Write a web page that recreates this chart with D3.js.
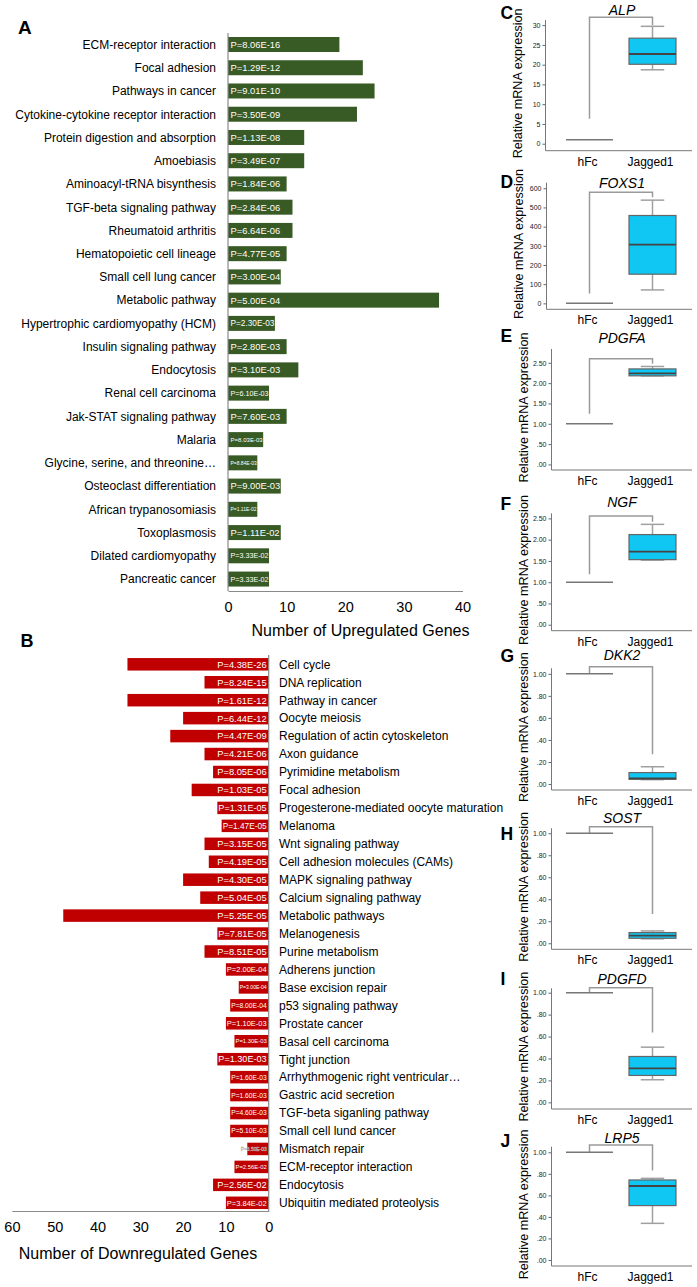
<!DOCTYPE html>
<html>
<head>
<meta charset="utf-8">
<script src="https://cdn.jsdelivr.net/npm/d3@7"></script>
<style>
  html, body { margin: 0; padding: 0; background: #fff; }
  svg { display: block; font-family: "Liberation Sans", Arial, sans-serif; }
</style>
</head>
<body>
<svg id="chart" width="697" height="1287"></svg>
<script>
// ---------------- DATA ----------------
const upCategories = [
  "ECM-receptor interaction","Focal adhesion","Pathways in cancer","Cytokine-cytokine receptor interaction",
  "Protein digestion and absorption","Amoebiasis","Aminoacyl-tRNA bisynthesis","TGF-beta signaling pathway",
  "Rheumatoid arthritis","Hematopoietic cell lineage","Small cell lung cancer","Metabolic pathway",
  "Hypertrophic cardiomyopathy (HCM)","Insulin signaling pathway","Endocytosis","Renal cell carcinoma",
  "Jak-STAT signaling pathway","Malaria","Glycine, serine, and threonine\u2026","Osteoclast differentiation",
  "African trypanosomiasis","Toxoplasmosis","Dilated cardiomyopathy","Pancreatic cancer"
];
const upCounts = [19,23,25,22,13,13,10,11,11,10,9,36,8,10,12,7,10,6,5,9,5,9,7,7];
const upPValues = [
  "P=8.06E-16","P=1.29E-12","P=9.01E-10","P=3.50E-09","P=1.13E-08","P=3.49E-07","P=1.84E-06","P=2.84E-06",
  "P=6.64E-06","P=4.77E-05","P=3.00E-04","P=5.00E-04","P=2.30E-03","P=2.80E-03","P=3.10E-03","P=6.10E-03",
  "P=7.60E-03","P=8.03E-03","P=8.84E-03","P=9.00E-03","P=1.11E-02","P=1.11E-02","P=3.33E-02","P=3.33E-02"
];
const upTicks = [0,10,20,30,40];

const downCategories = [
  "Cell cycle","DNA replication","Pathway in cancer","Oocyte meiosis","Regulation of actin cytoskeleton",
  "Axon guidance","Pyrimidine metabolism","Focal adhesion","Progesterone-mediated oocyte maturation","Melanoma",
  "Wnt signaling pathway","Cell adhesion molecules (CAMs)","MAPK signaling pathway","Calcium signaling pathway",
  "Metabolic pathways","Melanogenesis","Purine metabolism","Adherens junction","Base excision repair",
  "p53 signaling pathway","Prostate cancer","Basal cell carcinoma","Tight junction",
  "Arrhythmogenic right ventricular\u2026","Gastric acid secretion","TGF-beta siganling pathway",
  "Small cell lund cancer","Mismatch repair","ECM-receptor interaction","Endocytosis","Ubiquitin mediated proteolysis"
];
const downCounts = [33,15,33,20,23,15,13,18,12,11,15,14,20,16,48,12,15,10,7,9,10,8,12,9,9,9,9,5,8,13,10];
const downPValues = [
  "P=4.38E-26","P=8.24E-15","P=1.61E-12","P=6.44E-12","P=4.47E-09","P=4.21E-06","P=8.05E-06","P=1.03E-05",
  "P=1.31E-05","P=1.47E-05","P=3.15E-05","P=4.19E-05","P=4.30E-05","P=5.04E-05","P=5.25E-05","P=7.81E-05",
  "P=8.51E-05","P=2.00E-04","P=3.00E-04","P=8.00E-04","P=1.10E-03","P=1.30E-03","P=1.30E-03","P=1.60E-03",
  "P=1.60E-03","P=4.60E-03","P=5.10E-03","P=3.50E-03","P=2.56E-02","P=2.56E-02","P=3.84E-02"
];
const downTicks = [60,50,40,30,20,10,0];

// qPCR box plots (Jagged1 vs hFc)
const genes   = ["ALP","FOXS1","PDGFA","NGF","DKK2","SOST","PDGFD","LRP5"];
const letters = ["C","D","E","F","G","H","I","J"];
const groups  = ["hFc","Jagged1"];
const hFcValue       = [1,1,1,1,1,1,1,1];
const jagWhiskerLow  = [18.7, 70, 2.18, 1.52, 0.040, 0.040, 0.206, 0.34];
const jagQ1          = [20.1, 152, 2.18, 1.53, 0.043, 0.045, 0.245, 0.505];
const jagMedian      = [22.7, 306, 2.24, 1.72, 0.052, 0.070, 0.309, 0.687];
const jagQ3          = [26.7, 458, 2.35, 2.12, 0.104, 0.097, 0.418, 0.743];
const jagWhiskerHigh = [29.7, 538, 2.41, 2.36, 0.157, 0.112, 0.503, 0.758];
const bracketStart   = [6.3, 52, 1.25, 1.19, 1.0, 1.0, 1.0, 1.0];
const bracketTop     = [32.0, 579, 2.60, 2.555, 1.063, 1.06, 1.045, 1.068];
const bracketEnd     = [30.0, 553, 2.48, 2.42, 0.27, 0.267, 0.636, 0.83];
const yTicks = [
  [0,5,10,15,20,25,30],
  [0,100,200,300,400,500,600],
  [0,0.5,1,1.5,2,2.5],
  [0,0.5,1,1.5,2,2.5],
  [0,0.2,0.4,0.6,0.8,1],
  [0,0.2,0.4,0.6,0.8,1],
  [0,0.2,0.4,0.6,0.8,1],
  [0,0.2,0.4,0.6,0.8,1]
];
const yDomains = [
  [-1.77, 31.3],[-31, 629],[-0.137, 2.84],[-0.14, 2.62],
  [-0.054, 1.05],[-0.055, 1.045],[-0.061, 1.04],[-0.056, 1.052]
];

// ---------------- LAYOUT ----------------
const FONT = '"Liberation Sans", Arial, sans-serif';
const svg = d3.select("#chart");
const GREEN = "#385a25", RED = "#c00000", AXIS = "#8a8a8a";

function labelSize(w, max) { return Math.max(4.9, Math.min(max, (w - 3) / 5.3)); }

// ---------- Panel A ----------
const gA = svg.append("g");
const xA = d3.scaleLinear().domain([0, 40]).range([228, 462.5]);
const yA = d3.scaleBand().domain(upCategories).range([28.75, 594.8]).paddingInner(0.355).paddingOuter(0.355);

gA.selectAll("rect.bar").data(upCategories).join("rect")
  .attr("x", xA(0)).attr("y", d => yA(d))
  .attr("width", (d, i) => xA(upCounts[i]) - xA(0))
  .attr("height", yA.bandwidth())
  .attr("fill", GREEN);

gA.selectAll("text.pv").data(upCategories).join("text")
  .attr("x", xA(0) + 2.5).attr("y", d => yA(d) + yA.bandwidth() / 2)
  .attr("dy", "0.36em").attr("fill", "#fff")
  .style("font-size", (d, i) => labelSize(xA(upCounts[i]) - xA(0), 9.4) + "px")
  .text((d, i) => upPValues[i]);

gA.selectAll("text.cat").data(upCategories).join("text")
  .attr("x", 216).attr("y", d => yA(d) + yA.bandwidth() / 2)
  .attr("dy", "0.36em").attr("text-anchor", "end").attr("fill", "#000")
  .style("font-size", "12px").text(d => d);

gA.append("line").attr("x1", xA(0)).attr("x2", xA(0)).attr("y1", 33).attr("y2", 591)
  .attr("stroke", AXIS).attr("stroke-width", 1.2);
const axA = gA.append("g").attr("transform", "translate(0,591)")
  .call(d3.axisBottom(xA).tickValues(upTicks).tickSize(0).tickPadding(11).tickFormat(d3.format("d")));
axA.select(".domain").attr("stroke", AXIS).attr("stroke-width", 1.2);
axA.selectAll("text").style("font-size", "14.5px").style("font-family", FONT).attr("fill", "#000");
gA.append("text").attr("x", 360.5).attr("y", 636).attr("text-anchor", "middle")
  .style("font-size", "16px").attr("fill", "#000").text("Number of Upregulated Genes");
svg.append("text").attr("x", 18).attr("y", 34.3).style("font-size", "19px").style("font-weight", "bold")
  .text("A");

// ---------- Panel B ----------
const gB = svg.append("g");
const xB = d3.scaleLinear().domain([0, 60]).range([268.7, 11.9]);
const yB = d3.scaleBand().domain(downCategories).range([652.6, 1214.5]).paddingInner(0.304).paddingOuter(0.304);

gB.selectAll("rect.bar").data(downCategories).join("rect")
  .attr("x", (d, i) => xB(downCounts[i])).attr("y", d => yB(d))
  .attr("width", (d, i) => xB(0) - xB(downCounts[i]))
  .attr("height", yB.bandwidth())
  .attr("fill", RED);

gB.selectAll("text.pv").data(downCategories).join("text")
  .attr("x", xB(0) - 2).attr("y", d => yB(d) + yB.bandwidth() / 2)
  .attr("dy", "0.36em").attr("text-anchor", "end").attr("fill", "#fff")
  .attr("stroke", (d, i) => (xB(0) - xB(downCounts[i])) < 25 ? "#999" : "none")
  .attr("stroke-width", 0.3)
  .style("font-size", (d, i) => labelSize(xB(0) - xB(downCounts[i]), 9.3) + "px")
  .text((d, i) => downPValues[i]);

gB.selectAll("text.cat").data(downCategories).join("text")
  .attr("x", 279).attr("y", d => yB(d) + yB.bandwidth() / 2)
  .attr("dy", "0.36em").attr("fill", "#000")
  .style("font-size", "12px").text(d => d);

gB.append("line").attr("x1", xB(0)).attr("x2", xB(0)).attr("y1", 655).attr("y2", 1211)
  .attr("stroke", AXIS).attr("stroke-width", 1.2);
const axB = gB.append("g").attr("transform", "translate(0,1211)")
  .call(d3.axisBottom(xB).tickValues(downTicks).tickSize(0).tickPadding(11).tickFormat(d3.format("d")));
axB.select(".domain").attr("stroke", AXIS).attr("stroke-width", 1.2);
axB.selectAll("text").style("font-size", "14.5px").style("font-family", FONT).attr("fill", "#000");
gB.append("text").attr("x", 138).attr("y", 1258.5).attr("text-anchor", "middle")
  .style("font-size", "16px").attr("fill", "#000").text("Number of Downregulated Genes");
svg.append("text").attr("x", 20.5).attr("y", 647.3).style("font-size", "18px").style("font-weight", "bold")
  .text("B");

// ---------- Box plot panels C-J ----------
const panelTop    = [20, 182.7, 349, 513.3, 668.3, 828.3, 988.3, 1146.7];
const panelBottom = [150.7, 309.3, 470, 630.7, 790, 949.3, 1109, 1266];
const panelAxisX  = [545.5, 546.5, 551.5, 551.5, 551.5, 551.5, 551.5, 551.5];
const titleBase   = [14.5, 187.5, 343, 507, 659.5, 822.5, 983.5, 1143];
const letterBase  = [19, 188, 341.7, 510, 661.7, 840, 985, 1147];
const xBox = d3.scalePoint().domain(groups).range([589.5, 652.5]);
const BOXW = 47;
const BOXFILL = "#10c6f2";

function fmtTick(i) {
  if (i < 2) return d3.format("d");
  return v => d3.format(".2f")(v).replace(/^0\./, ".");
}

genes.forEach((gene, i) => {
  const g = svg.append("g");
  const ax = panelAxisX[i];
  const y = d3.scaleLinear().domain(yDomains[i]).range([panelBottom[i], panelTop[i]]);

  // y axis
  const yAx = g.append("g").attr("transform", `translate(${ax},0)`)
    .call(d3.axisLeft(y).tickValues(yTicks[i]).tickSize(3).tickPadding(2).tickFormat(fmtTick(i)));
  yAx.select(".domain").remove();
  yAx.selectAll("line").attr("stroke", "#666");
  yAx.selectAll("text").style("font-size", "7px").style("font-family", FONT).attr("fill", "#222");
  g.append("line").attr("x1", ax).attr("x2", ax).attr("y1", panelTop[i]).attr("y2", panelBottom[i])
    .attr("stroke", "#777").attr("stroke-width", 1);
  g.append("line").attr("x1", ax).attr("x2", 692).attr("y1", panelBottom[i]).attr("y2", panelBottom[i])
    .attr("stroke", "#777").attr("stroke-width", 1);

  // group labels
  g.selectAll("text.grp").data(groups).join("text")
    .attr("x", d => xBox(d) - 2).attr("y", panelBottom[i] + 14.8)
    .attr("text-anchor", "middle").style("font-size", "12px").attr("fill", "#000").text(d => d);

  // y title
  const cy = (panelTop[i] + panelBottom[i]) / 2 - 2;
  g.append("text").attr("transform", `translate(${ax - 24},${cy}) rotate(-90)`)
    .attr("text-anchor", "middle").style("font-size", "12.6px").attr("fill", "#000")
    .text("Relative mRNA expression");

  // gene title
  g.append("text").attr("x", 622).attr("y", titleBase[i]).attr("text-anchor", "middle")
    .style("font-size", "14px").style("font-style", "italic").attr("fill", "#000").text(gene);

  // panel letter
  svg.append("text").attr("x", 500.5).attr("y", letterBase[i]).style("font-size", "17.5px")
    .style("font-weight", "bold").text(letters[i]);

  // significance bracket
  const xl = xBox("hFc"), xr = xBox("Jagged1");
  g.append("path")
    .attr("d", `M${xl},${y(bracketStart[i])}V${y(bracketTop[i])}H${xr}V${y(bracketEnd[i])}`)
    .attr("fill", "none").attr("stroke", "#9a9a9a").attr("stroke-width", 1.5);

  // hFc (all values = 1): flat line
  g.append("line").attr("x1", xl - BOXW / 2).attr("x2", xl + BOXW / 2)
    .attr("y1", y(hFcValue[i])).attr("y2", y(hFcValue[i]))
    .attr("stroke", "#777").attr("stroke-width", 1.5);

  // Jagged1 box
  const cx = xr;
  g.append("line").attr("x1", cx).attr("x2", cx).attr("y1", y(jagWhiskerHigh[i])).attr("y2", y(jagQ3[i]))
    .attr("stroke", "#a0a0a0").attr("stroke-width", 1.5);
  g.append("line").attr("x1", cx).attr("x2", cx).attr("y1", y(jagWhiskerLow[i])).attr("y2", y(jagQ1[i]))
    .attr("stroke", "#a0a0a0").attr("stroke-width", 1.5);
  [jagWhiskerHigh[i], jagWhiskerLow[i]].forEach(v => {
    g.append("line").attr("x1", cx - BOXW / 4).attr("x2", cx + BOXW / 4).attr("y1", y(v)).attr("y2", y(v))
      .attr("stroke", "#a0a0a0").attr("stroke-width", 1.5);
  });
  g.append("rect").attr("x", cx - BOXW / 2).attr("width", BOXW)
    .attr("y", y(jagQ3[i])).attr("height", Math.max(1, y(jagQ1[i]) - y(jagQ3[i])))
    .attr("fill", BOXFILL).attr("stroke", "#666").attr("stroke-width", 1.2);
  g.append("line").attr("x1", cx - BOXW / 2).attr("x2", cx + BOXW / 2)
    .attr("y1", y(jagMedian[i])).attr("y2", y(jagMedian[i]))
    .attr("stroke", "#444").attr("stroke-width", 1.8);
});
</script>
</body>
</html>
